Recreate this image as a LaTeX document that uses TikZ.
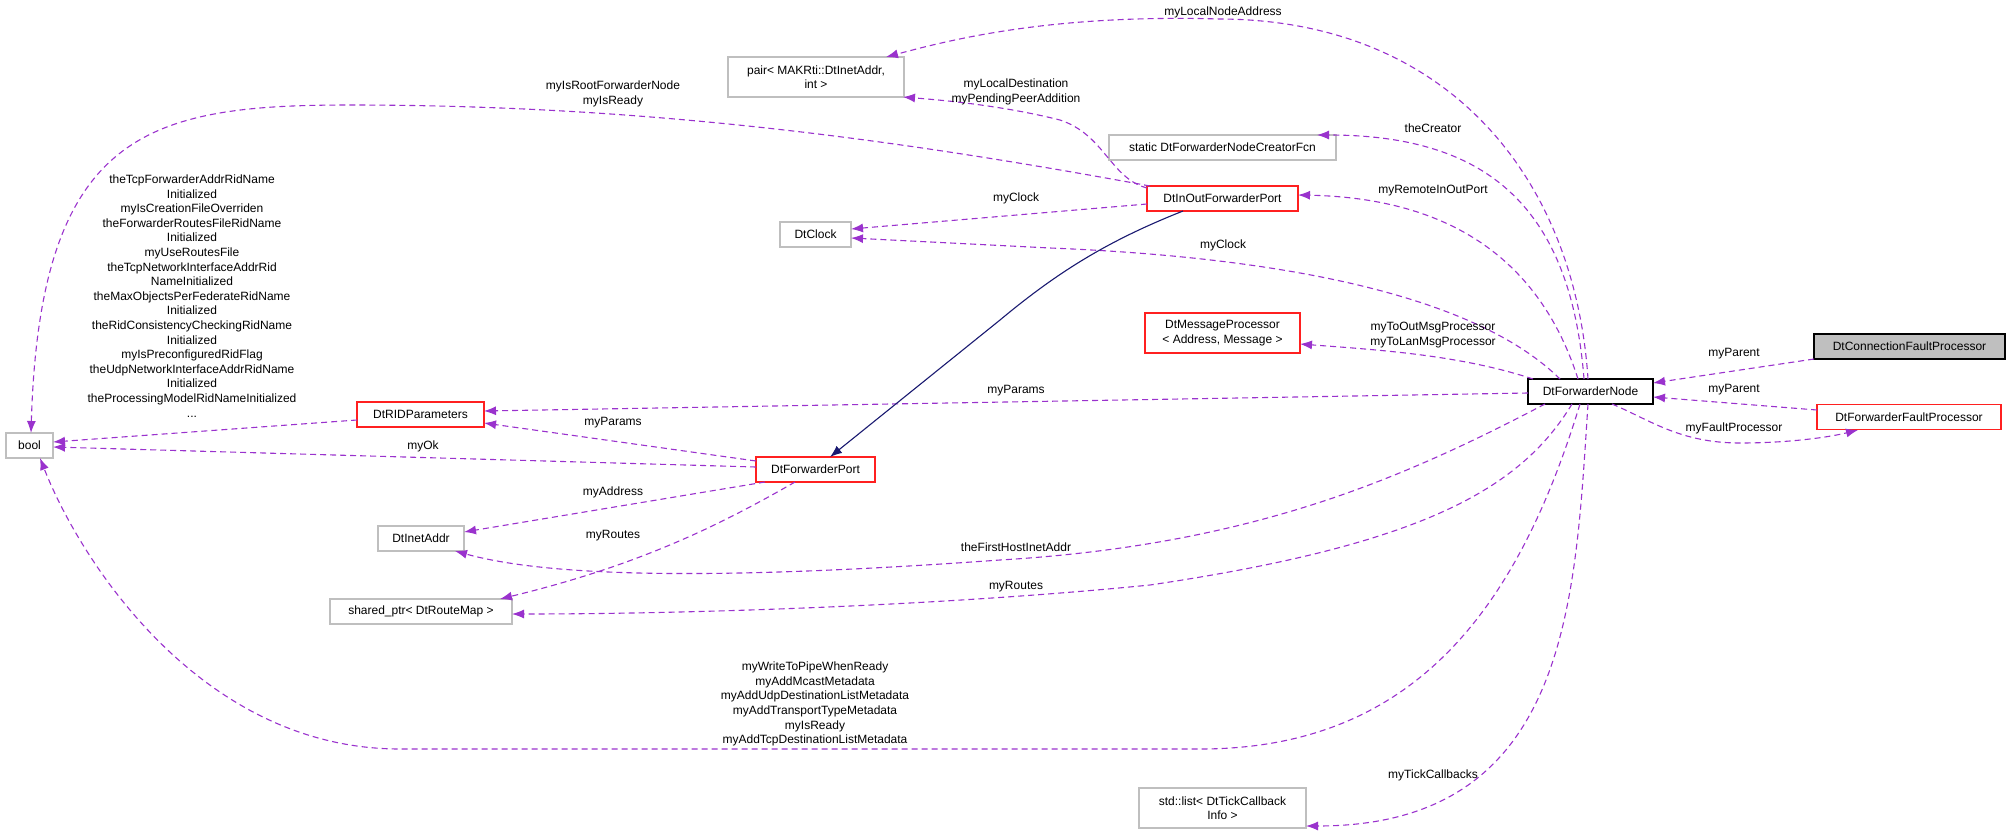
\documentclass[tikz,border=0pt]{standalone}
\usepackage{fontspec}
\setmainfont{Liberation Sans}
\usetikzlibrary{arrows.meta}
\definecolor{edgep}{HTML}{9A32CD}
\definecolor{boxg}{HTML}{BFBFBF}
\definecolor{boxr}{HTML}{FF2020}
\definecolor{inh}{HTML}{191970}
\begin{document}
\begin{tikzpicture}[x=1pt,y=-1pt,
  every node/.style={font=\fontsize{12}{14.6}\selectfont},
  box/.style={draw=boxg,line width=1.2pt,inner sep=0pt,align=center,fill=white},
  rbox/.style={box,draw=boxr},
  kbox/.style={box,draw=black},
  lbl/.style={inner sep=0pt,align=center},
  mem/.style={draw=edgep,line width=1.1pt,dash pattern=on 6pt off 4pt,-{Latex[length=12pt,width=9pt]},rounded corners=0},
  inher/.style={draw=inh,line width=1.1pt,-{Latex[length=12pt,width=9pt]}}]
\useasboundingbox (0,0) rectangle (2011,833);
% nodes
\node[box,minimum width=47,minimum height=25] (bool) at (29.5,445.5) {bool};
\node[rbox,minimum width=127,minimum height=25] (rid) at (420.5,414.5) {DtRIDParameters};
\node[box,minimum width=86,minimum height=25] (inet) at (421,538.5) {DtInetAddr};
\node[box,minimum width=182,minimum height=25] (sp) at (421,611.5) {shared\_ptr< DtRouteMap >};
\node[box,minimum width=176,minimum height=40] (pair) at (816,77) {pair< MAKRti::DtInetAddr,\\int >};
\node[box,minimum width=71,minimum height=25] (clock) at (815.5,234.5) {DtClock};
\node[box,minimum width=227,minimum height=25] (creator) at (1222.5,147.5) {static DtForwarderNodeCreatorFcn};
\node[rbox,minimum width=151,minimum height=25] (inout) at (1222.5,198.5) {DtInOutForwarderPort};
\node[rbox,minimum width=155,minimum height=40] (msg) at (1222.5,333) {DtMessageProcessor\\< Address, Message >};
\node[kbox,minimum width=125,minimum height=25] (fn) at (1590.5,391.5) {DtForwarderNode};
\node[kbox,fill=boxg,minimum width=191,minimum height=25] (cfp) at (1909.5,346.5) {DtConnectionFaultProcessor};
\node[rbox,minimum width=184,minimum height=25] (ffp) at (1909,417) {DtForwarderFaultProcessor};
\node[rbox,minimum width=119,minimum height=25] (port) at (815.5,469.5) {DtForwarderPort};
\node[box,minimum width=167,minimum height=40] (list) at (1222.5,808) {std::list< DtTickCallback\\Info >};
% edges
\draw[mem] ([shift={(-2.5,-12.5)}]fn.center) .. controls (1575,180) and (1450,20) .. (1220,19) .. controls (1050,14) and (950,40) .. ([shift={(70,-20)}]pair.center);
\draw[mem] ([shift={(-75.5,-10.5)}]inout.center) .. controls (1110,178) and (1105,135) .. (1060,120) .. controls (1000,105) and (940,100) .. ([shift={(87,20)}]pair.center);
\draw[mem] ([shift={(-72.5,-12.5)}]inout.center) .. controls (900,140) and (650,105) .. (350,105) .. controls (150,105) and (40,130) .. ([shift={(1.5,-12.5)}]bool.center);
\draw[mem] ([shift={(-75.5,5.5)}]inout.center) -- ([shift={(35.5,-5.5)}]clock.center);
\draw[mem] ([shift={(-30.5,-12.5)}]fn.center) .. controls (1480,300) and (1300,258) .. (1050,248) -- ([shift={(35.5,3.5)}]clock.center);
\draw[mem] ([shift={(-6.5,-12.5)}]fn.center) .. controls (1570,200) and (1480,135) .. ([shift={(94.5,-12.5)}]creator.center);
\draw[mem] ([shift={(-12.5,-12.5)}]fn.center) .. controls (1540,260) and (1450,198) .. ([shift={(75.5,-3.5)}]inout.center);
\draw[mem] ([shift={(-57.5,-12.5)}]fn.center) .. controls (1460,355) and (1380,350) .. ([shift={(77.5,11)}]msg.center);
\draw[mem] ([shift={(-62.5,1.5)}]fn.center) -- ([shift={(63.5,-3.5)}]rid.center);
\draw[mem] ([shift={(-59.5,-8.5)}]port.center) -- ([shift={(63.5,8.5)}]rid.center);
\draw[mem] ([shift={(-59.5,-2.5)}]port.center) -- ([shift={(23.5,1.5)}]bool.center);
\draw[mem] ([shift={(-63.5,5.5)}]rid.center) -- ([shift={(23.5,-3.5)}]bool.center);
\draw[mem] ([shift={(-50.5,12.5)}]port.center) -- ([shift={(43,-6.5)}]inet.center);
\draw[mem] ([shift={(-20.5,12.5)}]port.center) .. controls (720,525) and (640,565) .. ([shift={(79,-12.5)}]sp.center);
\draw[mem] ([shift={(-45.5,12.5)}]fn.center) .. controls (1400,480) and (1250,545) .. (1000,560) .. controls (750,578) and (560,580) .. ([shift={(34,12.5)}]inet.center);
\draw[mem] ([shift={(-18.5,12.5)}]fn.center) .. controls (1520,490) and (1420,545) .. (1150,585) .. controls (950,605) and (700,614) .. ([shift={(91,2.5)}]sp.center);
\draw[mem] ([shift={(-10.5,12.5)}]fn.center) .. controls (1520,600) and (1420,749) .. (1200,749) -- (400,749) .. controls (200,749) and (80,560) .. ([shift={(10.5,12.5)}]bool.center);
\draw[mem] ([shift={(-2.5,12.5)}]fn.center) .. controls (1575,600) and (1570,826) .. ([shift={(83.5,18)}]list.center);
\draw[mem] ([shift={(-95.5,12.5)}]cfp.center) -- ([shift={(62.5,-8.5)}]fn.center);
\draw[mem] ([shift={(-92,-7)}]ffp.center) -- ([shift={(62.5,5.5)}]fn.center);
\draw[mem] ([shift={(21.5,12.5)}]fn.center) .. controls (1650,420) and (1680,443) .. (1740,443) .. controls (1790,443) and (1830,437) .. ([shift={(-51,13)}]ffp.center);
\draw[inher] ([shift={(-39.5,12.5)}]inout.center) .. controls (1110,240) and (1060,270) .. (1000,320) -- ([shift={(14.5,-12.5)}]port.center);
% labels
\node[lbl] (l1) at (1223,12) {myLocalNodeAddress};
\node[lbl] (l2) at (1016,92) {myLocalDestination\\myPendingPeerAddition};
\node[lbl] (l3) at (613,94) {myIsRootForwarderNode\\myIsReady};
\node[lbl] (l4) at (1016,198) {myClock};
\node[lbl] (l5) at (1223,245) {myClock};
\node[lbl] (l6) at (1433,128) {theCreator};
\node[lbl] (l7) at (1433,191) {myRemoteInOutPort};
\node[lbl] (l8) at (1433,335) {myToOutMsgProcessor\\myToLanMsgProcessor};
\node[lbl] (l9) at (1016,391) {myParams};
\node[lbl] (l10) at (613,423) {myParams};
\node[lbl] (l11) at (423,446) {myOk};
\node[lbl] (l12) at (192,296) {theTcpForwarderAddrRidName\\Initialized\\myIsCreationFileOverriden\\theForwarderRoutesFileRidName\\Initialized\\myUseRoutesFile\\theTcpNetworkInterfaceAddrRid\\NameInitialized\\theMaxObjectsPerFederateRidName\\Initialized\\theRidConsistencyCheckingRidName\\Initialized\\myIsPreconfiguredRidFlag\\theUdpNetworkInterfaceAddrRidName\\Initialized\\theProcessingModelRidNameInitialized\\...};
\node[lbl] (l13) at (613,492) {myAddress};
\node[lbl] (l14) at (613,536) {myRoutes};
\node[lbl] (l15) at (1016,547) {theFirstHostInetAddr};
\node[lbl] (l16) at (1016,587) {myRoutes};
\node[lbl] (l17) at (815,704) {myWriteToPipeWhenReady\\myAddMcastMetadata\\myAddUdpDestinationListMetadata\\myAddTransportTypeMetadata\\myIsReady\\myAddTcpDestinationListMetadata};
\node[lbl] (l18) at (1433,775) {myTickCallbacks};
\node[lbl] (l19) at (1734,354) {myParent};
\node[lbl] (l20) at (1734,390) {myParent};
\node[lbl] (l21) at (1734,428) {myFaultProcessor};
\end{tikzpicture}
\end{document}
